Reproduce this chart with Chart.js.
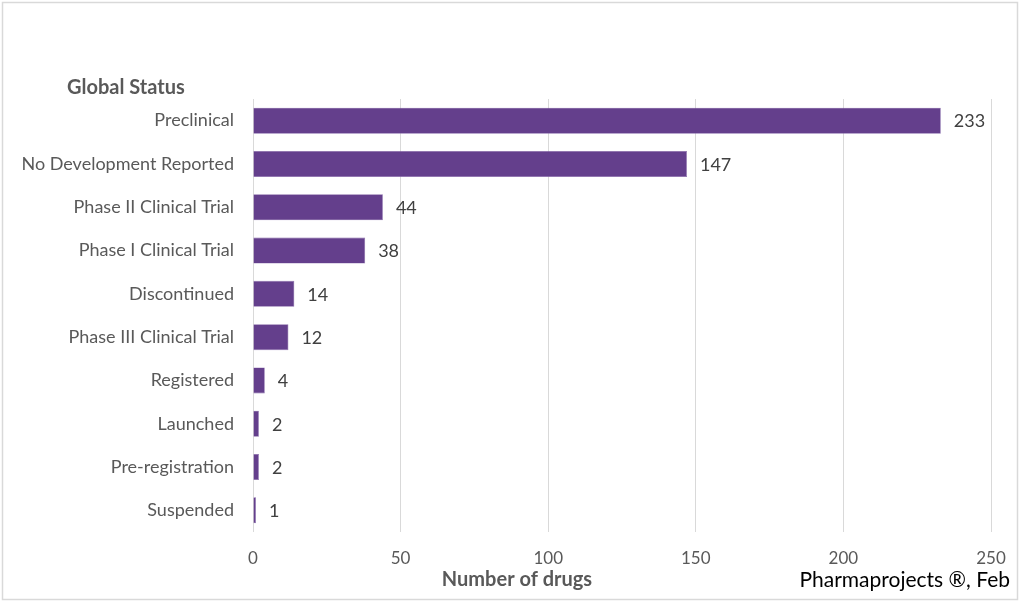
<!DOCTYPE html>
<html>
<head>
<meta charset="utf-8">
<script src="https://cdn.jsdelivr.net/npm/chart.js@4.4.1/dist/chart.umd.min.js"></script>
<style>
  html, body { margin: 0; padding: 0; background: #fff; }
  #wrap { width: 1024px; height: 605px; }
</style>
</head>
<body>
<div id="wrap"><canvas id="chart" width="1024" height="605"></canvas></div>
<script>
// values
const statuses = [
    'Preclinical',
    'No Development Reported',
    'Phase II Clinical Trial',
    'Phase I Clinical Trial',
    'Discontinued',
    'Phase III Clinical Trial',
    'Registered',
    'Launched',
    'Pre-registration',
    'Suspended'
];
const drugCounts = [233, 147, 44, 38, 14, 12, 4, 2, 2, 1];
const xTicks = [0, 50, 100, 150, 200, 250];

const FONT = 'Lato, "Open Sans", sans-serif';
const GREY = '#595959';
const PURPLE = '#643f8c';

// frame, header, axis title, footnote and bar values
const decorations = {
    id: 'decorations',
    afterDraw(chart) {
        const ctx = chart.ctx;
        ctx.save();

        ctx.strokeStyle = '#d9d9d9';
        ctx.lineWidth = 1.5;
        ctx.strokeRect(2.5, 2.5, 1015, 597);

        ctx.fillStyle = GREY;
        ctx.font = `bold 20px ${FONT}`;
        ctx.textAlign = 'left';
        ctx.textBaseline = 'middle';
        ctx.fillText('Global Status', 67, 88);

        // x axis title sits left of the plot centre in the original
        ctx.textAlign = 'center';
        ctx.fillText('Number of drugs', 517, 580);

        ctx.fillStyle = '#000';
        ctx.font = `21px ${FONT}`;
        ctx.textAlign = 'right';
        ctx.fillText('Pharmaprojects \u00AE, Feb', 1010, 580);

        // value labels at the end of each bar
        const meta = chart.getDatasetMeta(0);
        ctx.fillStyle = '#404040';
        ctx.font = `18px ${FONT}`;
        ctx.textAlign = 'left';
        meta.data.forEach((bar, i) => {
            ctx.fillText(String(drugCounts[i]), bar.x + 13, bar.y + 1);
        });

        ctx.restore();
    }
};

new Chart(document.getElementById('chart'), {
    type: 'bar',
    data: {
        labels: statuses,
        datasets: [{
            label: 'Number of drugs',
            data: drugCounts,
            backgroundColor: PURPLE,
            borderColor: '#8466a8',
            borderWidth: 0.6,
            categoryPercentage: 1,
            barPercentage: 0.6
        }]
    },
    options: {
        indexAxis: 'y',
        responsive: false,
        animation: false,
        devicePixelRatio: 1,
        layout: {
            padding: { top: 99, right: 33, bottom: 12, left: 10 }
        },
        plugins: {
            legend: { display: false },
            tooltip: { enabled: false }
        },
        scales: {
            x: {
                min: 0,
                max: 250,
                afterBuildTicks: scale => {
                    scale.ticks = xTicks.map(v => ({ value: v }));
                },
                afterFit: scale => {
                    scale.height = 605 - 532 - 12;
                    scale.paddingLeft = 0;
                    scale.paddingRight = 0;
                },
                grid: {
                    color: '#d9d9d9',
                    lineWidth: 1,
                    drawTicks: false
                },
                border: { display: false },
                ticks: {
                    color: GREY,
                    padding: 16,
                    font: { family: FONT, size: 17 }
                }
            },
            y: {
                afterFit: scale => {
                    scale.width = 253 - 10;
                    scale.paddingTop = 0;
                    scale.paddingBottom = 0;
                },
                grid: { display: false, drawTicks: false },
                border: { display: false },
                ticks: {
                    color: GREY,
                    padding: 19,
                    font: { family: FONT, size: 18 }
                }
            }
        }
    },
    plugins: [decorations]
});
</script>
</body>
</html>
